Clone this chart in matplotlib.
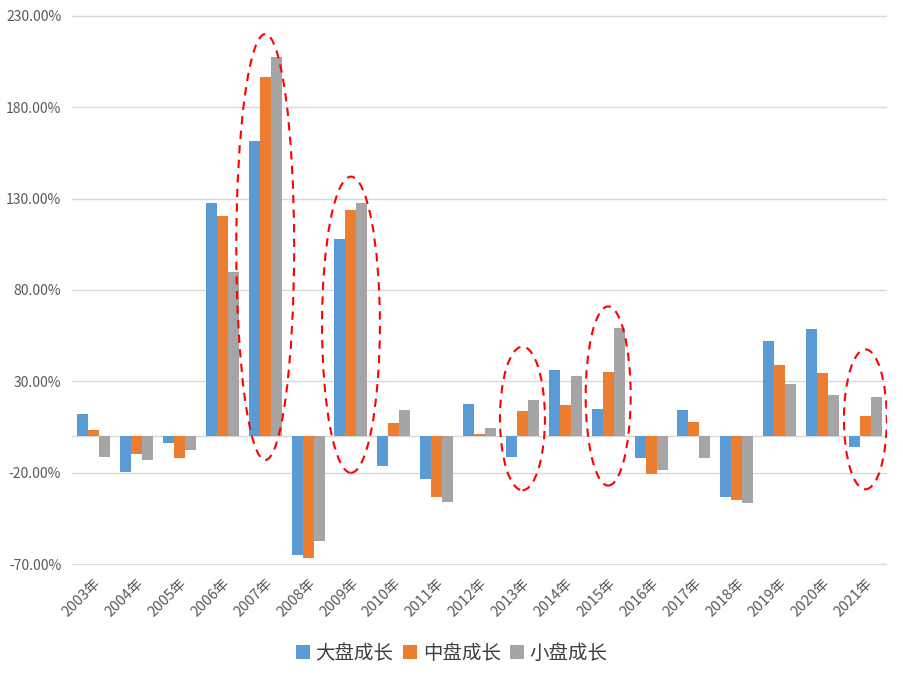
import matplotlib
matplotlib.use('Agg')
import matplotlib.pyplot as plt
from matplotlib.patches import Ellipse
import numpy as np

plt.rcParams['font.family'] = ['Noto Sans CJK SC', 'DejaVu Sans']

years = ['2003年', '2004年', '2005年', '2006年', '2007年', '2008年', '2009年', '2010年',
         '2011年', '2012年', '2013年', '2014年', '2015年', '2016年', '2017年', '2018年',
         '2019年', '2020年', '2021年']
large_growth = [12.0, -19.5, -3.6, 127.6, 161.4, -64.7, 108.0, -16.2, -23.3, 17.4,
                -11.3, 36.5, 14.7, -11.8, 14.2, -33.1, 52.3, 58.9, -5.8]
mid_growth = [3.3, -9.6, -11.8, 120.5, 196.3, -66.4, 123.8, 7.1, -33.1, 1.1,
              13.6, 16.9, 35.4, -20.5, 7.6, -34.7, 38.7, 34.4, 10.9]
small_growth = [-11.3, -12.9, -7.5, 90.0, 207.2, -57.1, 127.6, 14.2, -35.8, 4.4,
                19.6, 32.7, 59.4, -18.4, -11.8, -36.4, 28.4, 22.4, 21.3]
series_names = ['大盘成长', '中盘成长', '小盘成长']
colors = ['#5B9BD5', '#ED7D31', '#A5A5A5']

# highlighted years: (index, top, bottom, width in categories)
highlights = [(4, 220, -13, 1.35), (6, 142, -20, 1.35), (10, 49, -29.5, 1.05),
              (12, 71, -27, 1.05), (18, 47.5, -29, 1.0)]

fig = plt.figure(figsize=(9.04, 6.82), dpi=100)
ax = fig.add_axes([0.08, 0.1716, 0.901, 0.8064])

x = np.arange(len(years))
w = 0.257
for i, (vals, name, c) in enumerate(zip([large_growth, mid_growth, small_growth], series_names, colors)):
    ax.bar(x + (i - 1) * w, vals, width=w, color=c, label=name, zorder=3)

for idx, top, bot, wd in highlights:
    e = Ellipse((idx, (top + bot) / 2), wd, top - bot, fill=False, edgecolor='#FF0000',
                linestyle=(0, (4, 3)), linewidth=1.5, zorder=4)
    ax.add_patch(e)

ax.set_ylim(-70.4, 230.4)
ax.set_xlim(-0.5, len(years) - 0.5)
yt = np.arange(-70, 231, 50)
ax.set_yticks(yt)
ax.set_yticklabels(['%.2f%%' % v for v in yt], fontsize=10, color='#595959')
ax.yaxis.grid(True, color='#d9d9d9', linewidth=1, zorder=0)
ax.axhline(0, color='#d9d9d9', linewidth=1, zorder=2)
ax.set_xticks(x)
ax.set_xticklabels(years, rotation=45, ha='right', rotation_mode='anchor',
                   fontsize=10.5, color='#595959')
ax.tick_params(axis='both', length=0)
ax.tick_params(axis='x', pad=8)
ax.tick_params(axis='y', pad=8)
for s in ax.spines.values():
    s.set_visible(False)

fig.legend(loc='center', bbox_to_anchor=(0.5, 0.042), ncol=3, frameon=False,
           fontsize=14, handlelength=0.7, handleheight=0.7, handletextpad=0.3,
           columnspacing=0.5, labelcolor='#404040')

fig.savefig('out.png', dpi=100)
